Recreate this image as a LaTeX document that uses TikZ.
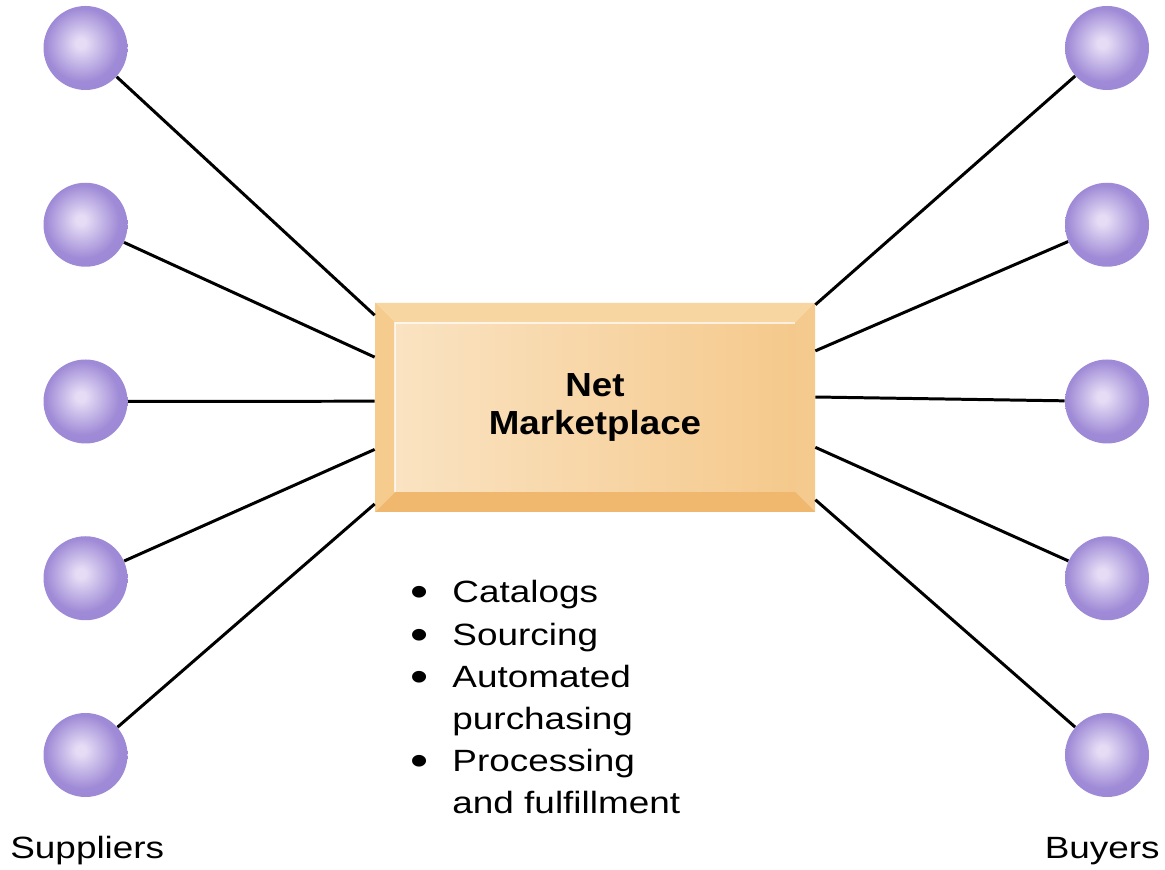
\documentclass[tikz,border=0pt]{standalone}
\usepackage{fontspec}
\setmainfont{Liberation Sans}[FakeStretch=1.2]
\newfontfamily\mkfont{Liberation Sans}[FakeStretch=1.1]
\usetikzlibrary{calc}
\definecolor{orblight}{RGB}{230,220,245}
\definecolor{orbmid}{RGB}{158,138,214}
\definecolor{orbdark}{RGB}{122,100,186}
\definecolor{mkedge}{HTML}{F3C486}
\definecolor{mktop}{HTML}{F8D6A2}
\definecolor{mkleft}{HTML}{F5CB8E}
\definecolor{mkright}{HTML}{F4CA8E}
\definecolor{mkbottom}{HTML}{EFB86E}
\definecolor{mkfacea}{HTML}{FAE3C2}
\definecolor{mkfaceb}{HTML}{F5C98C}
\pgfdeclareradialshading{orb}{\pgfpoint{-3bp}{3bp}}{color(0bp)=(orblight); color(3bp)=(orblight); color(22bp)=(orbmid); color(44bp)=(orbmid!85!orbdark); color(50bp)=(orbdark); color(60bp)=(orbdark)}
\def\bev{0.4cm}
\tikzstyle{orb} = [circle, minimum size=1.68cm, inner sep=0pt, shading=orb]
\tikzstyle{link} = [line width=1.7pt, black]
\tikzstyle{market} = [rectangle, minimum width=8.8cm, minimum height=4.18cm, align=center,
font=\mkfont\bfseries\fontsize{19}{22}\selectfont, fill=mkedge, path picture={
\path (path picture bounding box.north west) coordinate (o1) (path picture bounding box.north east) coordinate (o2)
(path picture bounding box.south east) coordinate (o3) (path picture bounding box.south west) coordinate (o4);
\path ([shift={(\bev,-\bev)}]o1) coordinate (i1) ([shift={(-\bev,-\bev)}]o2) coordinate (i2)
([shift={(-\bev,\bev)}]o3) coordinate (i3) ([shift={(\bev,\bev)}]o4) coordinate (i4);
\fill[mktop] (o1) -- (o2) -- (i2) -- (i1) -- cycle;
\fill[mkright] (o2) -- (o3) -- (i3) -- (i2) -- cycle;
\fill[mkbottom] (o3) -- (o4) -- (i4) -- (i3) -- cycle;
\fill[mkleft] (o4) -- (o1) -- (i1) -- (i4) -- cycle;
\shade[left color=mkfacea, right color=mkfaceb] (i1) rectangle (i3);
\draw[white, line width=1pt, opacity=.7] (i4) -- (i1) -- (i2);}]
\tikzstyle{features} = [inner sep=0pt, font=\fontsize{17.5}{24}\selectfont]
\tikzstyle{side} = [inner sep=0pt, font=\fontsize{17.5}{24}\selectfont]
\newcommand{\dotitem}{\raisebox{-0.08cm}{\scalebox{1.4}{\textbullet}}}

\begin{document}
\begin{tikzpicture}[node distance = 3.535cm]
\useasboundingbox (0,0) rectangle (23.3,17.38);

% ------------------------- nodes -------------------------

% ----- suppliers
\node(s1)[orb] at (1.71,16.42) {};
\node(s2)[orb, below of=s1] {};
\node(s3)[orb, below of=s2] {};
\node(s4)[orb, below of=s3] {};
\node(s5)[orb, below of=s4] {};
% ----- buyers
\node(b1)[orb] at (22.14,16.42) {};
\node(b2)[orb, below of=b1] {};
\node(b3)[orb, below of=b2] {};
\node(b4)[orb, below of=b3] {};
\node(b5)[orb, below of=b4] {};
% ----- marketplace
\node(mp)[market] at (11.9,9.23) {Net\\Marketplace};
% ----- services
\node(feat)[features, anchor=base west] at (8.2,5.32) {\begin{tabular}[t]{@{}l@{\hspace{0.48cm}}l@{}}
\dotitem & Catalogs\\
\dotitem & Sourcing\\
\dotitem & Automated\\
 & purchasing\\
\dotitem & Processing\\
 & and fulfillment
\end{tabular}};
% ----- labels
\node(sup)[side, anchor=base west] at (0.2,0.22) {Suppliers};
\node(buy)[side, anchor=base east] at (23.2,0.22) {Buyers};

% ------------------------- links -------------------------
\foreach \i/\f in {1/0.06,2/0.26,3/0.47,4/0.70,5/0.96}
  \draw[link] (s\i) -- ($(mp.north west)!\f!(mp.south west)$);
\foreach \i/\f in {1/0.01,2/0.23,3/0.45,4/0.69,5/0.94}
  \draw[link] (b\i) -- ($(mp.north east)!\f!(mp.south east)$);

\end{tikzpicture}
\end{document}
